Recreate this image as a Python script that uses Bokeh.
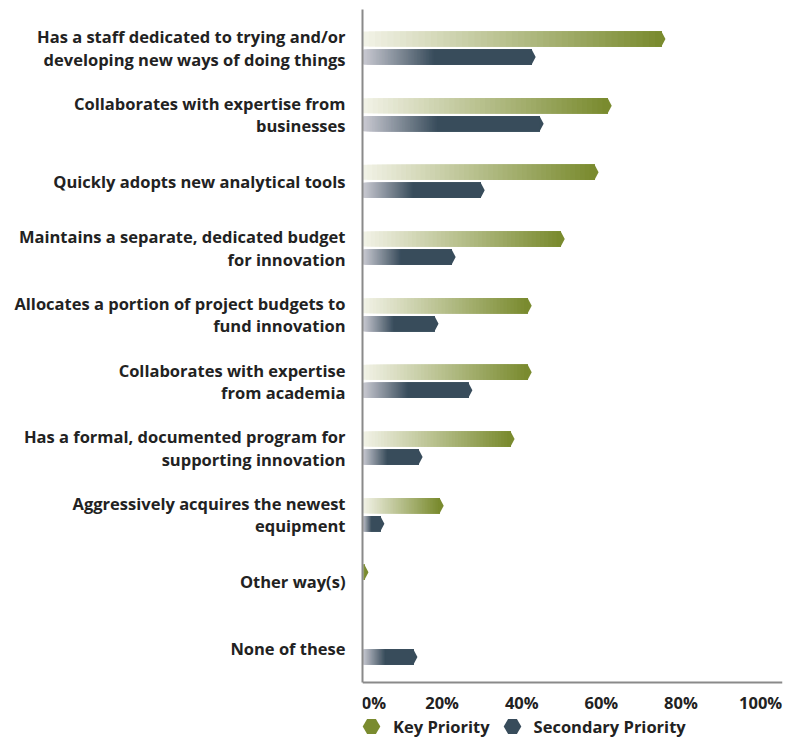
import numpy as np
from bokeh.plotting import figure
from bokeh.models import Range1d, FixedTicker, Legend, LegendItem, ColumnDataSource
from bokeh.embed import file_html
from bokeh.resources import INLINE

# ---------------- data ----------------
categories = [
    "Has a staff dedicated to trying and/or\ndeveloping new ways of doing things",
    "Collaborates with expertise from\nbusinesses",
    "Quickly adopts new analytical tools",
    "Maintains a separate, dedicated budget\nfor innovation",
    "Allocates a portion of project budgets to\nfund innovation",
    "Collaborates with expertise\nfrom academia",
    "Has a formal, documented program for\nsupporting innovation",
    "Aggressively acquires the newest\nequipment",
    "Other way(s)",
    "None of these",
]
key_priority = [76.1, 62.6, 59.3, 50.8, 42.5, 42.5, 38.2, 20.4, 1.5, 0.0]
secondary_priority = [43.5, 45.5, 30.7, 23.4, 19.1, 27.6, 15.1, 5.5, 0.0, 13.8]
x_ticks = [0, 20, 40, 60, 80, 100]
x_tick_labels = ["0%", "20%", "40%", "60%", "80%", "100%"]
series_names = ["Key Priority", "Secondary Priority"]

# ---------------- style ----------------
FONT = "Open Sans"
FONT_SIZE = "16.5px"
TEXT = "#222222"
AXIS = "#8a8a8a"
GREEN_START, GREEN_END = (244, 244, 234), (122, 139, 47)
SLATE_START, SLATE_END = (204, 204, 212), (56, 76, 91)
BAR_H = 0.225
OFFSET = 0.135
TIP = 1.0
N = 48
SLATE_GRAD = 0.42
Y_TOP = -0.5775      # space above first row (in row units)
Y_AXIS = 9.5175      # where the value axis sits (in row units)
Y_BOTTOM = 10.342    # bottom of frame (room for tick labels + legend)
FIRST_LABEL_PAD = "\u2007\u2007\u2005"  # keeps the "0%" label clear of the frame edge


def col(a, b, t):
    return "#%02x%02x%02x" % tuple(int(round(a[i] + (b[i] - a[i]) * t)) for i in range(3))


p = figure(width=791, height=737, output_backend="svg", toolbar_location=None,
           x_range=Range1d(0, 105.5), y_range=Range1d(Y_BOTTOM, Y_TOP),
           min_border_left=362, min_border_top=9, min_border_bottom=0, min_border_right=9)
p.outline_line_color = None
p.xgrid.visible = False
p.ygrid.visible = False


def build(values, offset, start, end, grad_frac):
    L, R, T, B, C = [], [], [], [], []
    txs, tys, tcs = [], [], []
    for i, v in enumerate(values):
        if v <= 0:
            continue
        y = i + offset
        body = max(v - TIP, 0.0)
        if body > 0:
            gl = body if grad_frac >= 1 else grad_frac * v
            for k in range(N):
                f = k / N
                L.append(f * gl)
                R.append(body)
                T.append(y - BAR_H / 2)
                B.append(y + BAR_H / 2)
                C.append(col(start, end, (k + 1) / N))
        txs.append([body, v, body])
        tys.append([y - BAR_H / 2, y, y + BAR_H / 2])
        tcs.append(col(start, end, 1.0))
    p.quad(source=ColumnDataSource(dict(left=L, right=R, top=T, bottom=B, c=C)),
           left="left", right="right", top="top", bottom="bottom",
           fill_color="c", line_color=None)
    p.patches(source=ColumnDataSource(dict(xs=txs, ys=tys, c=tcs)), xs="xs", ys="ys",
              fill_color="c", line_color=None)


build(key_priority, -OFFSET, GREEN_START, GREEN_END, 1.0)
build(secondary_priority, OFFSET, SLATE_START, SLATE_END, SLATE_GRAD)

# axes
yax = p.yaxis[0]
yax.ticker = FixedTicker(ticks=list(range(len(categories))))
yax.major_label_overrides = {i: c for i, c in enumerate(categories)}
yax.bounds = (Y_TOP, Y_AXIS)
yax.major_tick_line_color = None
yax.minor_tick_line_color = None
yax.major_tick_out = 0
yax.major_tick_in = 0
yax.axis_line_color = AXIS
yax.axis_line_width = 2
yax.major_label_standoff = 17
yax.major_label_text_font = FONT
yax.major_label_text_font_style = "bold"
yax.major_label_text_font_size = FONT_SIZE
yax.major_label_text_color = TEXT
yax.major_label_text_line_height = 0.98

xax = p.xaxis[0]
xax.fixed_location = Y_AXIS
xax.ticker = FixedTicker(ticks=x_ticks)
overrides = {t: l for t, l in zip(x_ticks, x_tick_labels)}
overrides[x_ticks[0]] = FIRST_LABEL_PAD + x_tick_labels[0]
xax.major_label_overrides = overrides
xax.major_tick_line_color = None
xax.minor_tick_line_color = None
xax.major_tick_out = 0
xax.major_tick_in = 0
xax.axis_line_color = AXIS
xax.axis_line_width = 2
xax.major_label_standoff = 8
xax.major_label_text_font = FONT
xax.major_label_text_font_style = "bold"
xax.major_label_text_font_size = FONT_SIZE
xax.major_label_text_color = TEXT

# legend (hexagon markers)
r_key = p.scatter(x=[np.nan], y=[np.nan], marker="hex",
                  fill_color=col(GREEN_START, GREEN_END, 1.0), line_color=None)
r_sec = p.scatter(x=[np.nan], y=[np.nan], marker="hex",
                  fill_color=col(SLATE_START, SLATE_END, 1.0), line_color=None)
legend = Legend(items=[LegendItem(label=series_names[0], renderers=[r_key]),
                       LegendItem(label=series_names[1], renderers=[r_sec])],
                orientation="horizontal", location=(-13, -11),
                glyph_width=44, glyph_height=44, label_standoff=0, spacing=0,
                padding=0, margin=0, border_line_alpha=0, background_fill_alpha=0,
                label_text_font=FONT, label_text_font_style="bold",
                label_text_font_size=FONT_SIZE, label_text_color=TEXT)
p.add_layout(legend, "center")

open("out.html", "w").write(file_html(p, INLINE))
